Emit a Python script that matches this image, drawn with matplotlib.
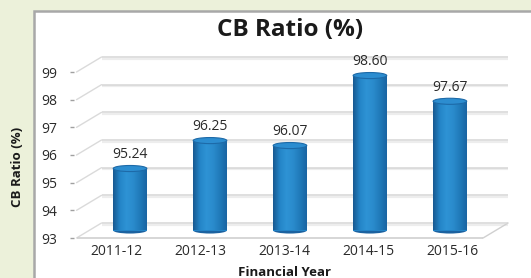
import matplotlib
matplotlib.use("Agg")
import matplotlib.pyplot as plt
import numpy as np
from matplotlib.patches import Rectangle, Ellipse, ConnectionPatch
from matplotlib.transforms import ScaledTranslation, Affine2D
from matplotlib.colors import LinearSegmentedColormap

categories = ["2011-12", "2012-13", "2013-14", "2014-15", "2015-16"]
values = [95.24, 96.25, 96.07, 98.60, 97.67]
value_labels = ["95.24", "96.25", "96.07", "98.60", "97.67"]
yticks = [93, 94, 95, 96, 97, 98, 99]

title = "CB Ratio (%)"
ylabel = "CB Ratio (%)"
xlabel = "Financial Year"

FONT = "Open Sans"
plt.rcParams['font.family'] = [FONT, 'DejaVu Sans']

DPI = 100
fig = plt.figure(figsize=(5.31, 2.78), dpi=DPI)
fig.patch.set_facecolor("#ECF1DA")

# white panel with grey border
panel = Rectangle((34 / 531, -0.1), 1.1, (278 - 11) / 278 + 0.1, transform=fig.transFigure,
                  facecolor="white", edgecolor="#A8A8A8", linewidth=1.8, zorder=-10)
fig.patches.append(panel)

ax = fig.add_axes([74 / 531, 40 / 278, 420 / 531, 166 / 278])
ax.set_facecolor("none")
ax.set_zorder(1)
ax.set_xlim(-0.5, 4.5)
ax.set_ylim(93, 99)
for s in ax.spines.values():
    s.set_visible(False)

x = np.arange(len(categories))

# 3D depth offsets
back = ax.transData + ScaledTranslation(25 / DPI, 15 / DPI, fig.dpi_scale_trans)
shadow = back + ScaledTranslation(0, -1.5 / DPI, fig.dpi_scale_trans)
x_left, x_right = -0.47, 4.37

# back wall gridlines (with a soft shadow)
ax.hlines(yticks, x_left, x_right, transform=shadow, colors="#EDEDED", linewidth=1.6,
          clip_on=False, zorder=1)
ax.hlines(yticks, x_left, x_right, transform=back, colors="#D6D6D6", linewidth=1.1,
          clip_on=False, zorder=1.1)
# left side diagonals
for yv in yticks:
    cp = ConnectionPatch(xyA=(x_left, yv), coordsA=ax.transData,
                         xyB=(x_left, yv), coordsB=back,
                         color="#DADADA", linewidth=1.0, zorder=1)
    ax.add_artist(cp)
# floor front edge & right diagonal
ax.hlines([yticks[0]], x_left, x_right, colors="#CFCFCF", linewidth=1.2, clip_on=False, zorder=1)
cp = ConnectionPatch(xyA=(x_right, yticks[0]), coordsA=ax.transData,
                     xyB=(x_right, yticks[0]), coordsB=back,
                     color="#D0D0D0", linewidth=1.0, zorder=1)
ax.add_artist(cp)

# bars at mid depth
bar_trans = (Affine2D().scale(0.952, 1).translate(0.167, 0) + ax.transData
             + ScaledTranslation(0, 7.5 / DPI, fig.dpi_scale_trans))
w = 0.42
cyl = LinearSegmentedColormap.from_list(
    "cyl", ["#185a92", "#2485c8", "#2e93d5", "#2a8bcc", "#207ab9", "#1a65a3"])
grad = np.linspace(0, 1, 64).reshape(1, -1)
eh = 0.22
for xi, v, lab in zip(x, values, value_labels):
    # bottom cap
    ax.add_patch(Ellipse((xi, yticks[0]), w, eh, transform=bar_trans,
                         facecolor="#1b62a0", edgecolor="none", zorder=2, clip_on=False))
    rect = Rectangle((xi - w / 2, yticks[0]), w, v - yticks[0], transform=bar_trans,
                     facecolor="#2383c6", edgecolor="none", zorder=3, clip_on=False)
    ax.add_patch(rect)
    im = ax.imshow(grad, extent=[xi - w / 2, xi + w / 2, yticks[0], v], transform=bar_trans,
                   aspect="auto", cmap=cyl, zorder=3.5, interpolation="bilinear")
    im.set_clip_path(rect)
    # top cap
    ax.add_patch(Ellipse((xi, v), w, eh, transform=bar_trans,
                         facecolor="#2c8dd0", edgecolor="#1d6aa8", linewidth=0.8, zorder=4,
                         clip_on=False))
    ax.text(xi, v, lab, transform=bar_trans + ScaledTranslation(0, 14 / DPI, fig.dpi_scale_trans),
            ha="center", va="center", fontsize=10, color="#2a2a2a", zorder=5)

ax.set_xlim(-0.5, 4.5)
ax.set_ylim(93, 99)

ax.set_yticks(yticks)
ax.set_yticklabels([str(t) for t in yticks], fontsize=10, color="#2a2a2a")
ax.tick_params(axis="y", length=3, color="#A0A0A0", pad=9, width=1)
ax.set_xticks(x)
ax.set_xticklabels(categories, fontsize=10, color="#2a2a2a")
ax.tick_params(axis="x", length=0, pad=4)

fig.text(290 / 531, 1 - 30 / 278, title, ha="center", va="center",
         fontsize=17.5, fontweight="bold", color="#1a1a1a")
fig.text(18 / 531, 1 - 167 / 278, ylabel, ha="center", va="center", rotation=90,
         fontsize=9.5, fontweight="bold", color="#1a1a1a")
fig.text(285 / 531, 1 - 273 / 278, xlabel, ha="center", va="center",
         fontsize=9.5, fontweight="bold", color="#1a1a1a")

fig.savefig("out.png", dpi=DPI, facecolor=fig.get_facecolor())
